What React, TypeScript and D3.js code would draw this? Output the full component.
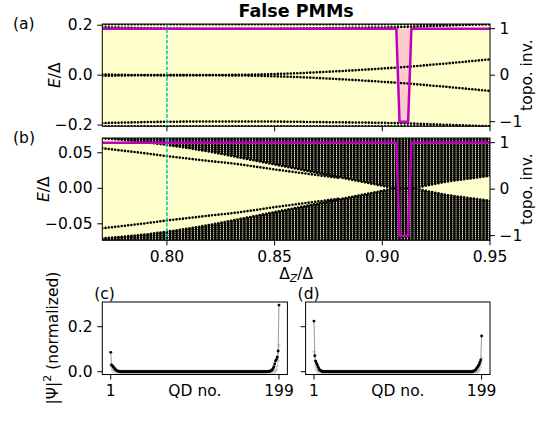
import React from 'react';
import * as d3 from 'd3';

// ---------- data ----------
const xGrid = [0.77, 0.78, 0.79, 0.80, 0.81, 0.82, 0.83, 0.84, 0.85, 0.86, 0.87, 0.88, 0.89, 0.90, 0.91, 0.92, 0.93, 0.94, 0.95];
// panel (a): near-zero pair (+/-), inner bulk level (+/-), outer bulk level (+/-)
const zeroModeA = [0.003, 0.001, 0.0003, 0.0, 0.0001, 0.0004, 0.001, 0.002, 0.0045, 0.0075, 0.0115, 0.016, 0.021, 0.0265, 0.0325, 0.0395, 0.047, 0.055, 0.0635];
const innerLevelA = [0.192, 0.19, 0.188, 0.187, 0.186, 0.186, 0.186, 0.186, 0.186, 0.187, 0.188, 0.189, 0.19, 0.191, 0.193, 0.196, 0.199, 0.202, 0.205];
const outerLevelA = [0.2045, 0.2045, 0.2045, 0.2045, 0.2045, 0.2045, 0.2045, 0.2045, 0.2045, 0.2045, 0.2045, 0.2045, 0.2045, 0.2045, 0.2045, 0.2045, 0.2045, 0.2045, 0.2045];
// panel (b): bulk gap edge (+/-) and in-gap level (+/-)
const gapEdgeX = [0.77, 0.78, 0.79, 0.80, 0.81, 0.82, 0.83, 0.84, 0.85, 0.86, 0.87, 0.88, 0.89, 0.90, 0.905, 0.915, 0.92, 0.93, 0.94, 0.95];
const gapEdgeB = [0.0705, 0.068, 0.065, 0.061, 0.0565, 0.0515, 0.0455, 0.0395, 0.0335, 0.0275, 0.0215, 0.0155, 0.0095, 0.0035, 0.0, 0.0, 0.0035, 0.0095, 0.0135, 0.0176];
const inGapX = [0.77, 0.78, 0.79, 0.80, 0.81, 0.82, 0.83, 0.84, 0.85, 0.86, 0.87, 0.88];
const inGapB = [0.0563, 0.0528, 0.0493, 0.0453, 0.0418, 0.0383, 0.0352, 0.031, 0.0265, 0.0225, 0.0185, 0.0145];
// topological invariant
const topoX = [0.77, 0.9065, 0.908, 0.912, 0.9135, 0.95];
const topoVal = [1, 1, -1, -1, 1, 1];
const markerX = 0.80;
const sampleStep = 0.0015;

const xTicksAB = [0.80, 0.85, 0.90, 0.95];
const yTicksA = [-0.2, 0.0, 0.2];
const yTicksB = [-0.05, 0.0, 0.05];
const topoTicks = [-1, 0, 1];

// panels (c), (d): |Psi|^2 along the chain of 199 QDs
const nSites = 199;
const psiC_left = [0.086, 0.030, 0.026, 0.022, 0.016, 0.012, 0.008, 0.005, 0.003, 0.002, 0.001];
const psiC_right = [0.001, 0.002, 0.003, 0.005, 0.009, 0.014, 0.022, 0.035, 0.048, 0.055, 0.065, 0.092, 0.296];
const psiD_left = [0.225, 0.071, 0.047, 0.037, 0.030, 0.020, 0.012, 0.007, 0.004, 0.002, 0.001];
const psiD_right = [0.001, 0.002, 0.003, 0.006, 0.009, 0.014, 0.020, 0.025, 0.032, 0.042, 0.052, 0.159];
const psi2C_left = [0.03, 0.02, 0.012, 0.006, 0.003];
const psi2C_right = [0.004, 0.01, 0.025, 0.05, 0.119];
const psi2D_left = [0.089, 0.05, 0.025, 0.01, 0.004];
const psi2D_right = [0.003, 0.008, 0.02, 0.035, 0.06];
const siteTicks = [1, 199];

const buildSeries = (left: number[], right: number[]) =>
  [...left, ...new Array(nSites - left.length - right.length).fill(0), ...right];
const psiC = buildSeries(psiC_left, psiC_right);
const psiD = buildSeries(psiD_left, psiD_right);
const psi2C = buildSeries(psi2C_left, psi2C_right);
const psi2D = buildSeries(psi2D_left, psi2D_right);

// ---------- layout ----------
const W = 549, H = 422;
const L = 102.3, R = 490;
const A = { top: 24, bottom: 126.3 };
const B = { top: 138, bottom: 240.3 };
const CD = { top: 302, bottom: 374.5 };
const Cx = [102.3, 287.4];
const Dx = [305.6, 490];
const FONT = 'DejaVu Sans, sans-serif';
const FS = 15.5;

const BG = '#ffffcc';
const PINK = '#ffcccc';
const MAG = '#bf00bf';
const CYAN = '#00bfbf';

const xAB = d3.scaleLinear().domain([0.77, 0.95]).range([L, R]);
const yA = d3.scaleLinear().domain([-0.205, 0.205]).range([A.bottom, A.top]);
const tA = d3.scaleLinear().domain([-1.1, 1.1]).range([A.bottom, A.top]);
const yB = d3.scaleLinear().domain([-0.0732, 0.0708]).range([B.bottom, B.top]);
const tB = d3.scaleLinear().domain([-1.1, 1.1]).range([B.bottom, B.top]);
const xC = d3.scaleLinear().domain([-8.9, 208.9]).range(Cx);
const xD = d3.scaleLinear().domain([-8.9, 208.9]).range(Dx);
const yCD = d3.scaleLinear().domain([-0.0124, 0.3098]).range([CD.bottom, CD.top]);

const fmtMinus = (s: string) => s.replace('-', '\u2212');

function lineOf(xs: number[], ys: number[], sx: any, sy: any, sign = 1) {
  return d3.line<number>().x((_, i) => sx(xs[i])).y((v) => sy(sign * v))(ys) || '';
}

const dotted = { fill: 'none', stroke: '#000', strokeWidth: 2.6, strokeLinecap: 'round' as const, strokeDasharray: '0 3.25' };

function TopoFill({ ty }: any) {
  const area = d3.area<number>().x((_, i) => xAB(topoX[i])).y0(() => ty(1)).y1((v) => ty(v))(topoVal) || '';
  return <path d={area} fill={PINK} stroke="none" />;
}

function RightAxis({ ty, top, bottom }: any) {
  return (
    <g fontFamily={FONT} fontSize={FS}>
      {topoTicks.map((t) => (
        <g key={t}>
          <line x1={R} x2={R + 5} y1={ty(t)} y2={ty(t)} stroke="#000" strokeWidth={1} />
          <text x={R + 9.5} y={ty(t)} dominantBaseline="central">{fmtMinus(String(t))}</text>
        </g>
      ))}
      <text transform={`translate(${527},${(top + bottom) / 2}) rotate(-90)`} textAnchor="middle" dominantBaseline="central">topo. inv.</text>
    </g>
  );
}

function LeftAxis({ sy, ticks, fmt, labelX, top, bottom }: any) {
  return (
    <g fontFamily={FONT} fontSize={FS}>
      {ticks.map((t: number) => (
        <g key={t}>
          <line x1={L - 5} x2={L} y1={sy(t)} y2={sy(t)} stroke="#000" strokeWidth={1} />
          <text x={L - 9.8} y={sy(t)} textAnchor="end" dominantBaseline="central">{fmtMinus(fmt(t))}</text>
        </g>
      ))}
      <text transform={`translate(${labelX},${(top + bottom) / 2}) rotate(-90)`} textAnchor="middle" dominantBaseline="central">
        <tspan fontStyle="italic">E</tspan>/Δ
      </text>
    </g>
  );
}

function PanelA() {
  const topoLine = lineOf(topoX, topoVal, xAB, tA);
  return (
    <g>
      <rect x={L} y={A.top} width={R - L} height={A.bottom - A.top} fill={BG} />
      <g clipPath="url(#clipA)">
        <TopoFill ty={tA} />
        {[1, -1].map((s) => (
          <g key={s}>
            <path d={lineOf(xGrid, zeroModeA, xAB, yA, s)} {...dotted} />
            <path d={lineOf(xGrid, innerLevelA, xAB, yA, s)} {...dotted} />
            <path d={lineOf(xGrid, outerLevelA, xAB, yA, s)} {...dotted} />
          </g>
        ))}
        <path d={topoLine} fill="none" stroke={MAG} strokeWidth={2.5} />
        <line x1={xAB(markerX)} x2={xAB(markerX)} y1={A.top} y2={A.bottom} stroke={CYAN} strokeWidth={1.5} strokeDasharray="3.7 1.6" />
      </g>
      <rect x={L} y={A.top} width={R - L} height={A.bottom - A.top} fill="none" stroke="#000" strokeWidth={1} />
      {xTicksAB.map((t) => (
        <line key={t} x1={xAB(t)} x2={xAB(t)} y1={A.bottom} y2={A.bottom + 5} stroke="#000" strokeWidth={1} />
      ))}
      <LeftAxis sy={yA} ticks={yTicksA} fmt={(t: number) => t.toFixed(1)} labelX={55} top={A.top} bottom={A.bottom} />
      <RightAxis ty={tA} top={A.top} bottom={A.bottom} />
    </g>
  );
}

function PanelB() {
  const topoLine = lineOf(topoX, topoVal, xAB, tB);
  const upper = d3.area<number>().x((_, i) => xAB(gapEdgeX[i])).y0(() => B.top - 2).y1((v) => yB(v))(gapEdgeB) || '';
  const lower = d3.area<number>().x((_, i) => xAB(gapEdgeX[i])).y0(() => B.bottom + 2).y1((v) => yB(-v))(gapEdgeB) || '';
  return (
    <g>
      <rect x={L} y={B.top} width={R - L} height={B.bottom - B.top} fill={BG} />
      <g clipPath="url(#clipB)">
        <TopoFill ty={tB} />
        <path d={upper} fill="url(#bulkStripes)" />
        <path d={lower} fill="url(#bulkStripes)" />
        {[1, -1].map((s) => (
          <g key={s}>
            <path d={lineOf(gapEdgeX, gapEdgeB, xAB, yB, s)} {...dotted} />
            <path d={lineOf(inGapX, inGapB, xAB, yB, s)} {...dotted} />
          </g>
        ))}
        <path d={topoLine} fill="none" stroke={MAG} strokeWidth={2.5} />
        <line x1={xAB(markerX)} x2={xAB(markerX)} y1={B.top} y2={B.bottom} stroke={CYAN} strokeWidth={1.5} strokeDasharray="3.7 1.6" />
      </g>
      <rect x={L} y={B.top} width={R - L} height={B.bottom - B.top} fill="none" stroke="#000" strokeWidth={1} />
      <g fontFamily={FONT} fontSize={FS}>
        {xTicksAB.map((t) => (
          <g key={t}>
            <line x1={xAB(t)} x2={xAB(t)} y1={B.bottom} y2={B.bottom + 5} stroke="#000" strokeWidth={1} />
            <text x={xAB(t)} y={261.6} textAnchor="middle">{t.toFixed(2)}</text>
          </g>
        ))}
        <text x={(L + R) / 2} y={279} textAnchor="middle">
          Δ<tspan fontStyle="italic" fontSize={11} dy={3}>Z</tspan><tspan dy={-3}>/Δ</tspan>
        </text>
      </g>
      <LeftAxis sy={yB} ticks={yTicksB} fmt={(t: number) => t.toFixed(2)} labelX={44} top={B.top} bottom={B.bottom} />
      <RightAxis ty={tB} top={B.top} bottom={B.bottom} />
    </g>
  );
}

function PsiPanel({ sx, range, main, second, showYLabels, tag }: any) {
  const sites = d3.range(1, nSites + 1);
  const line1 = d3.line<number>().x((_, i) => sx(sites[i])).y((v) => yCD(v))(main) || '';
  const line2 = d3.line<number>().x((_, i) => sx(sites[i])).y((v) => yCD(v))(second) || '';
  return (
    <g fontFamily={FONT} fontSize={FS}>
      <rect x={range[0]} y={CD.top} width={range[1] - range[0]} height={CD.bottom - CD.top} fill="#fff" />
      <path d={line2} fill="none" stroke="#c8c8c8" strokeWidth={0.6} />
      {second.map((v: number, i: number) => (
        <path key={'p' + i} d={`M${sx(sites[i]) - 2},${yCD(v)}h4M${sx(sites[i])},${yCD(v) - 2}v4`} stroke="#c0c0c0" strokeWidth={0.7} />
      ))}
      <path d={line1} fill="none" stroke="#555" strokeWidth={0.6} />
      {main.map((v: number, i: number) => (
        <circle key={i} cx={sx(sites[i])} cy={yCD(v)} r={1.45} fill="#000" />
      ))}
      <rect x={range[0]} y={CD.top} width={range[1] - range[0]} height={CD.bottom - CD.top} fill="none" stroke="#000" strokeWidth={1} />
      {[0, 0.2].map((t) => (
        <g key={t}>
          <line x1={range[0] - 5} x2={range[0]} y1={yCD(t)} y2={yCD(t)} stroke="#000" strokeWidth={1} />
          {showYLabels && <text x={range[0] - 9.8} y={yCD(t)} textAnchor="end" dominantBaseline="central">{t.toFixed(1)}</text>}
        </g>
      ))}
      {siteTicks.map((t) => (
        <g key={t}>
          <line x1={sx(t)} x2={sx(t)} y1={CD.bottom} y2={CD.bottom + 5} stroke="#000" strokeWidth={1} />
          <text x={sx(t)} y={396} textAnchor="middle">{t}</text>
        </g>
      ))}
      <text x={(range[0] + range[1]) / 2} y={396} textAnchor="middle">QD no.</text>
      <text x={range[0] - 8} y={298.5}>{tag}</text>
    </g>
  );
}

export default function App() {
  const stripeW = xAB(0.77 + sampleStep) - xAB(0.77);
  return (
    <svg width={W} height={H} style={{ position: 'absolute', left: 0, top: 0, background: '#fff' }}>
      <defs>
        <clipPath id="clipA"><rect x={L} y={A.top} width={R - L} height={A.bottom - A.top} /></clipPath>
        <clipPath id="clipB"><rect x={L} y={B.top} width={R - L} height={B.bottom - B.top} /></clipPath>
        <pattern id="bulkStripes" patternUnits="userSpaceOnUse" x={xAB(0.77) - stripeW * 0.38} y={0} width={stripeW} height={2}>
          <rect x={0} y={0} width={stripeW * 0.76} height={2} fill="#050505" />
          <rect x={stripeW * 0.76} y={1} width={stripeW * 0.24} height={1} fill="#000" opacity={0.55} />
        </pattern>
      </defs>
      <rect width={W} height={H} fill="#fff" />
      <text x={(L + R) / 2} y={17} textAnchor="middle" fontFamily={FONT} fontWeight="bold" fontSize={17.5}>False PMMs</text>
      <text x={13} y={29} fontFamily={FONT} fontSize={FS}>(a)</text>
      <text x={13} y={143} fontFamily={FONT} fontSize={FS}>(b)</text>
      <PanelA />
      <PanelB />
      <PsiPanel sx={xC} range={Cx} main={psiC} second={psi2C} showYLabels tag="(c)" />
      <PsiPanel sx={xD} range={Dx} main={psiD} second={psi2D} showYLabels={false} tag="(d)" />
      <text transform={`translate(53,338) rotate(-90)`} textAnchor="middle" dominantBaseline="central" fontFamily={FONT} fontSize={FS}>
        |Ψ|<tspan fontSize={11} dy={-6}>2</tspan><tspan dy={6}> (normalized)</tspan>
      </text>
    </svg>
  );
}
